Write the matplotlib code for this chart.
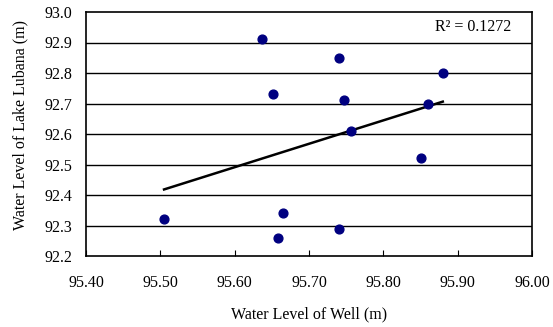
import numpy as np
from matplotlib import pyplot as plt

plt.rcParams['font.family'] = ['Liberation Serif', 'DejaVu Serif']

# water level of well (m) and of the lake (m)
well = [95.637, 95.741, 95.880, 95.652, 95.747, 95.860, 95.757, 95.850,
        95.505, 95.665, 95.658, 95.741]
lake = [92.91, 92.85, 92.80, 92.73, 92.71, 92.70, 92.61, 92.52,
        92.32, 92.34, 92.26, 92.29]
x_ticks = [95.40, 95.50, 95.60, 95.70, 95.80, 95.90, 96.00]
y_ticks = [92.2, 92.3, 92.4, 92.5, 92.6, 92.7, 92.8, 92.9, 93.0]

fig = plt.figure(figsize=(5.53, 3.27), dpi=100)
ax = fig.add_axes([86 / 553, 1 - 256 / 327, 446 / 553, 244 / 327])

for yv in y_ticks[1:-1]:
    ax.axhline(yv, color='black', lw=1.0, zorder=1)

ax.scatter(well, lake, s=40, color='#000080', zorder=3)

# linear trendline over the range of the data
k, b = np.polyfit(well, lake, 1)
xs = np.array([min(well), max(well)])
ax.plot(xs, k * xs + b, color='black', lw=1.8, zorder=2)

ax.text(0.953, 0.94, 'R² = 0.1272', transform=ax.transAxes,
        ha='right', va='center', fontsize=11.5)

ax.set_xlim(95.40, 96.00)
ax.set_ylim(92.2, 93.0)
ax.set_xticks(x_ticks)
ax.set_xticklabels(['%.2f' % v for v in x_ticks])
ax.set_yticks(y_ticks)
ax.set_yticklabels(['%.1f' % v for v in y_ticks])
ax.tick_params(axis='x', direction='in', length=4, labelsize=11.5, pad=14)
ax.tick_params(axis='y', length=0, labelsize=11.5, pad=10)
for s in ax.spines.values():
    s.set_linewidth(1.2)

ax.set_xlabel('Water Level of Well (m)', fontsize=11.5)
ax.xaxis.set_label_coords(0.5, -0.205)
ax.set_ylabel('Water Level of Lake Lubana (m)', fontsize=11.5)
ax.yaxis.set_label_coords(-0.13, 0.537)

fig.savefig('out.png', dpi=100)
